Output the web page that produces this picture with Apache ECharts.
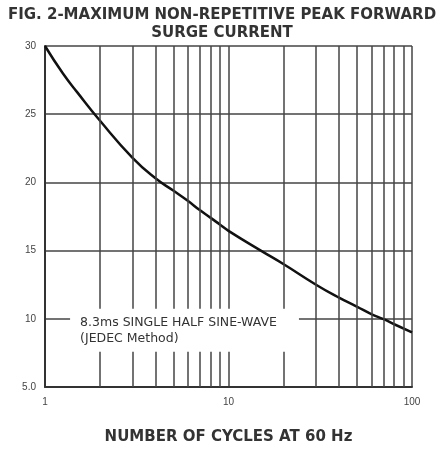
<!DOCTYPE html>
<html><head><meta charset="utf-8">
<script src="https://cdn.jsdelivr.net/npm/echarts@6/dist/echarts.min.js"></script>
<style>html,body{margin:0;padding:0;background:#fff}#c{width:444px;height:450px}</style>
</head><body><div id="c"></div>
<script>
const titleText = "FIG. 2-MAXIMUM NON-REPETITIVE PEAK FORWARD\nSURGE CURRENT";
const xAxisName = "NUMBER OF CYCLES AT 60 Hz";
const cycles  = [1, 1.25, 1.5, 2, 3, 4, 5, 6, 7, 8, 9, 10, 15, 20, 30, 40, 50, 60, 70, 80, 100];
const current = [30, 28.0, 26.6, 24.5, 21.8, 20.3, 19.4, 18.65, 17.95, 17.4, 16.9, 16.45, 15.0, 14.0, 12.5, 11.55, 10.9, 10.35, 9.97, 9.6, 9.0];
const minorGridX = [2, 3, 4, 5, 6, 7, 8, 9, 20, 30, 40, 50, 60, 70, 80, 90];
const noteText = "8.3ms SINGLE HALF SINE-WAVE\n(JEDEC Method)";
const notePos = [1.37, 10];

const gridColor = '#444';
const chart = echarts.init(document.getElementById('c'));
chart.setOption({
  animation: false,
  backgroundColor: '#fff',
  title: {
    text: titleText, left: 'center', top: 1,
    textStyle: {fontFamily: 'DejaVu Sans', fontSize: 15, fontWeight: 'bold', color: '#333', lineHeight: 18}
  },
  grid: {left: 45, right: 32, top: 46, bottom: 62},
  xAxis: {
    type: 'log', logBase: 10, min: 1, max: 100,
    name: xAxisName, nameLocation: 'middle', nameGap: 43,
    nameTextStyle: {fontFamily: 'DejaVu Sans', fontSize: 15, fontWeight: 'bold', color: '#333'},
    axisLine: {show: true, lineStyle: {color: '#333', width: 2}},
    axisTick: {show: false},
    axisLabel: {fontFamily: 'Liberation Sans', fontSize: 10, color: '#444', margin: 10},
    splitLine: {show: true, lineStyle: {color: gridColor, width: 1.5}}
  },
  yAxis: {
    type: 'value', min: 5, max: 30, interval: 5,
    axisLine: {show: true, lineStyle: {color: '#333', width: 2}},
    axisTick: {show: false},
    axisLabel: {fontFamily: 'Liberation Sans', fontSize: 10, color: '#444', margin: 9,
      formatter: v => v === 5 ? '5.0' : String(v)},
    splitLine: {show: true, lineStyle: {color: gridColor, width: 1.5}}
  },
  series: [
    {
      type: 'line', data: cycles.map((c, i) => [c, current[i]]),
      smooth: 0.5, showSymbol: false, z: 3,
      lineStyle: {color: '#111', width: 2.5},
      markLine: {
        silent: true, symbol: 'none', animation: false,
        label: {show: false},
        lineStyle: {color: gridColor, width: 1.5, type: 'solid'},
        data: minorGridX.map(v => ({xAxis: v}))
      }
    },
    {
      type: 'scatter', data: [notePos], symbolSize: 0, z: 10, silent: true,
      itemStyle: {opacity: 1},
      emphasis: {disabled: true},
      label: {
        show: true, position: 'right', distance: 0, offset: [0, 11.5],
        formatter: noteText,
        fontFamily: 'DejaVu Sans', fontSize: 12.5, color: '#333', lineHeight: 16,
        backgroundColor: '#fff', padding: [6, 22, 5, 10], align: 'left', opacity: 1
      }
    }
  ]
});
</script></body></html>
